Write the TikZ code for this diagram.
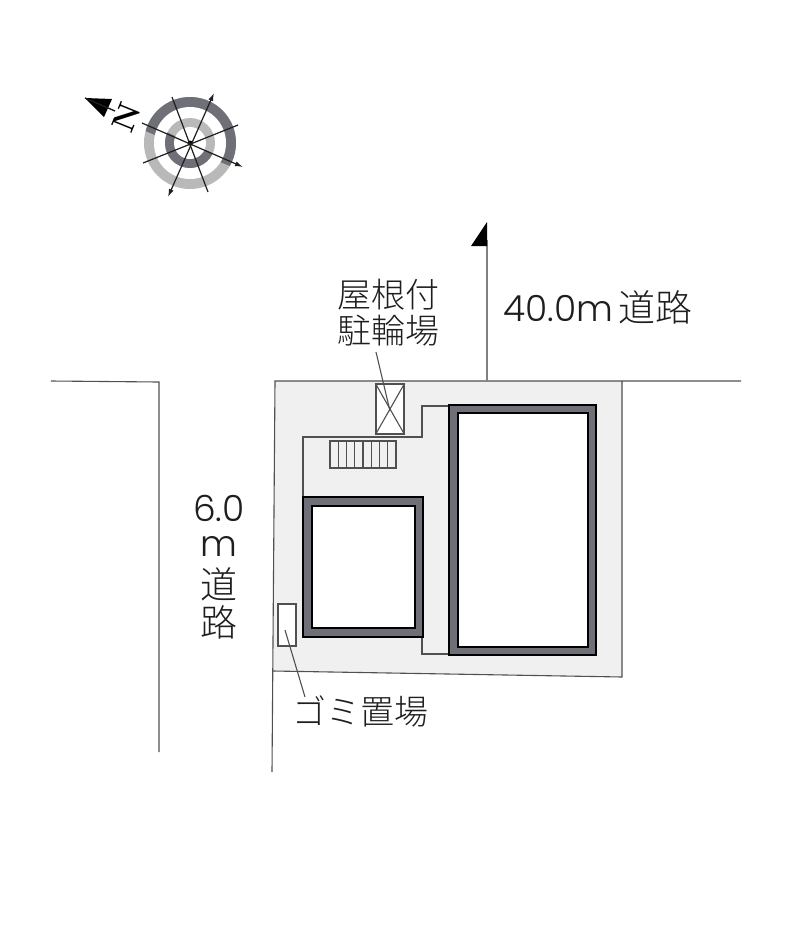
\documentclass[tikz,border=0pt]{standalone}
\usepackage{fontspec}
\usetikzlibrary{arrows.meta}
\newfontfamily\jpfont[UprightFont=* Light]{Noto Sans CJK JP}
\newfontfamily\numfont[UprightFont=* Light]{Poppins}
\definecolor{sitegray}{HTML}{F0F0F0}
\definecolor{wallgray}{HTML}{6F6F78}
\definecolor{linegray}{HTML}{505050}
\definecolor{inkgray}{HTML}{1E1E1E}
\tikzset{
  thinline/.style={draw=linegray, line width=1.1pt},
  wall/.style={draw=black, line width=2.8pt, fill=wallgray},
  wallin/.style={draw=black, line width=2.8pt, fill=white},
  spoke/.style={draw=inkgray, line width=1.2pt},
  lbl/.style={text=inkgray, inner sep=0pt},
  big/.style={lbl, font=\fontsize{37}{37}\selectfont\jpfont},
  bignum/.style={lbl, font=\fontsize{36}{36}\selectfont\numfont},
  small/.style={lbl, font=\fontsize{34}{34}\selectfont\jpfont},
}
\begin{document}
\begin{tikzpicture}[x=1pt, y=-1pt]
      \useasboundingbox (0,0) rectangle (800,940);
      % compass
      \coordinate (hub) at (190,143);
      \fill[gray!55] (hub) circle (46);
      \fill[wallgray] (hub) ++(-165:46) arc (-165:30:46) -- cycle;
      \fill[white] (hub) circle (36);
      \fill[gray!55] (hub) circle (25);
      \fill[wallgray] (hub) ++(25:25) arc (25:205:25) -- cycle;
      \fill[white] (hub) circle (16);
      \fill[black] (hub) circle (2.5);
      \coordinate (spokeA) at (142,123); \coordinate (spokeAend) at (243,167);
      \coordinate (spokeB) at (214,93);  \coordinate (spokeBend) at (168,197);
      \coordinate (spokeC) at (172,97);  \coordinate (spokeCend) at (208,192);
      \coordinate (spokeD) at (143,163); \coordinate (spokeDend) at (238,125);
      \draw[spoke, -{Latex[length=8pt,width=5pt]}] (spokeA) -- (spokeAend);
      \draw[spoke, {Latex[length=8pt,width=5pt]}-{Latex[length=8pt,width=5pt]}] (spokeB) -- (spokeBend);
      \draw[spoke] (spokeC) -- (spokeCend);
      \draw[spoke] (spokeD) -- (spokeDend);
      \coordinate (northtip) at (85,98);
      \coordinate (northtail) at (115,111);
      \fill[black] (northtip) -- (112,99) -- (104,117) -- cycle;
      \draw[inkgray, line width=1.4pt] (northtail) -- (northtip);
      \node[rotate=68, inner sep=0pt, font=\bfseries\fontsize{32}{32}\selectfont] (north) at (127,117) {N};
      % site
      \fill[sitegray] (275,381) -- (622,381) -- (622,677) -- (273,671) -- cycle;
      \draw[thinline] (741,381) -- (275,381) -- (272,772);
      \draw[thinline] (622,381) -- (622,677) -- (273,671);
      \draw[thinline] (51,381) -- (159,382) -- (159,752);
      % walkway
      \draw[thinline] (303,496) -- (303,437) -- (422,437) -- (422,406) -- (448,406);
      \draw[thinline] (422,638) -- (422,654) -- (448,654);
      % buildings
      \draw[wall] (449,405) rectangle (596,655);
      \draw[wallin] (458,413) rectangle (588,647);
      \draw[wall] (303,497) rectangle (423,637);
      \draw[wallin] (312,506) rectangle (415,628);
      % bike shed
      \node[draw=linegray, fill=white, line width=1.1pt, minimum width=28pt, minimum height=50pt, inner sep=0pt] (shed) at (390,409) {};
      \draw[thinline] (shed.north west) -- (shed.south east);
      \draw[thinline] (shed.north east) -- (shed.south west);
      % stairs
      \draw[thinline, fill=sitegray] (330,441) rectangle (396,468);
      \foreach \i in {1,...,7}
        \draw[thinline] ({330+\i*8.25},441) -- ({330+\i*8.25},468);
      % trash
      \node[draw=linegray, fill=white, line width=1.1pt, minimum width=18pt, minimum height=42pt, inner sep=0pt] (trash) at (287,625) {};
      % road arrow
      \coordinate (roadfoot) at (487,381);
      \coordinate (roadtip) at (487,222);
      \draw[gray, line width=1.5pt] (roadfoot) -- (487,240);
      \fill[black] (roadtip) -- (487,246) -- (471,246) -- cycle;
      % labels
      \node[lbl, anchor=base west, font=\fontsize{36}{36}\selectfont\numfont] (roadE) at (503,321) {40.0m};
      \node[big, anchor=base west] (roadEb) at (618,321) {道路};
      \node[small] (roofA) at (388,295) {屋根付};
      \node[small] (roofB) at (388,331) {駐輪場};
      \node[bignum] (roadN) at (219,508) {6.0};
      \node[bignum] (roadM) at (219,546) {m};
      \node[big] (roadD) at (219,584) {道};
      \node[big] (roadR) at (219,622) {路};
      \node[small] (gomi) at (360,711) {ゴミ置場};
      % leaders
      \coordinate (shedtop) at (376,352);
      \coordinate (shedend) at (390,411);
      \coordinate (trashend) at (285,630);
      \coordinate (gomitop) at (305,697);
      \draw[thinline] (shedtop) -- (shedend);
      \draw[thinline] (trashend) -- (gomitop);
\end{tikzpicture}
\end{document}
